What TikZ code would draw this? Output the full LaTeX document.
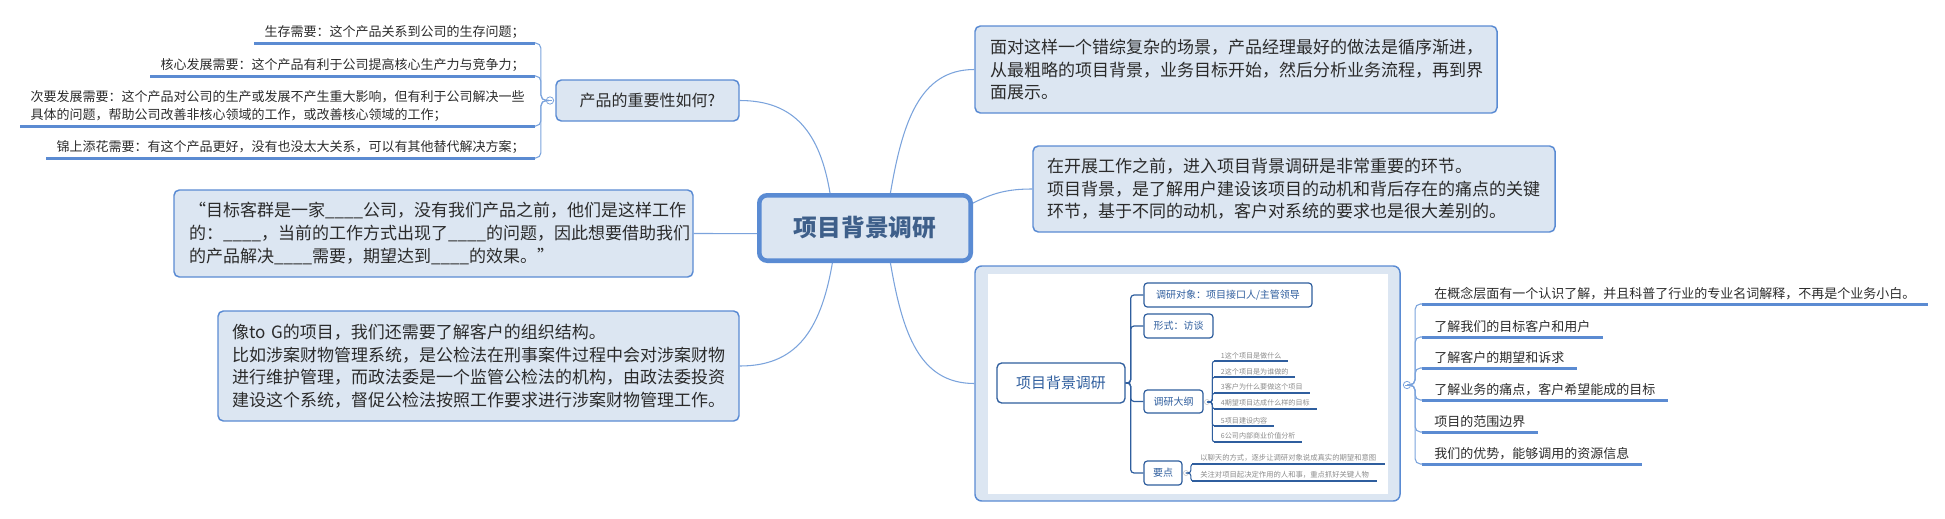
\documentclass[tikz,border=0pt]{standalone}
\usepackage{fontspec}
\setmainfont{Noto Sans CJK SC}
\definecolor{fillc}{HTML}{DCE6F2}
\definecolor{bordc}{HTML}{5A8BD3}
\definecolor{connc}{HTML}{7BA3DC}
\definecolor{ulc}{HTML}{5B8BD2}
\definecolor{txtc}{HTML}{2B2B2B}
\definecolor{ctxt}{HTML}{3E5F8A}
\definecolor{inb}{HTML}{2F5E9E}
\definecolor{ingray}{HTML}{8C8C8C}
\begin{document}
\begin{tikzpicture}[x=0.75pt,y=-0.75pt,
  mainbox/.style={draw=bordc,fill=fillc,line width=1.1pt,rounded corners=4pt,text=txtc,align=left,
    font=\fontsize{12.75}{16.9}\selectfont,inner ysep=0pt},
  centralbox/.style={draw=bordc,fill=fillc,line width=3.4pt,rounded corners=6pt,text=ctxt,
    font=\fontsize{17.8}{20}\selectfont\bfseries,minimum width=158.6pt,minimum height=49.1pt},
  conn/.style={draw=connc,line width=0.8pt},
  brl/.style={draw=connc,line width=0.8pt,rounded corners=4pt},
  uline/.style={draw=ulc,line width=2.25pt},
  litem/.style={text=txtc,align=left,font=\fontsize{9.75}{13.5}\selectfont,inner xsep=7.5pt,inner ysep=3pt},
  circ/.style={circle,draw=connc,fill=white,line width=0.6pt,minimum size=5.5pt,inner sep=0pt,
    path picture={\draw[connc,line width=0.5pt] ([xshift=-1.6pt]path picture bounding box.center) -- ([xshift=1.6pt]path picture bounding box.center);}},
  icirc/.style={circle,draw=ingray!50,fill=white,line width=0.4pt,minimum size=3.8pt,inner sep=0pt},
  ibox/.style={draw=inb,fill=white,line width=0.9pt,rounded corners=2.5pt,text=inb,
    font=\fontsize{7.5}{9}\selectfont,inner sep=0pt,minimum height=18pt},
  ibr/.style={draw=inb,line width=0.9pt,rounded corners=2.5pt},
  iul/.style={draw=inb,line width=0.8pt},
  iitem/.style={text=ingray,font=\fontsize{5.3}{6}\selectfont,inner xsep=5pt,inner ysep=1.6pt,anchor=south west},
]
\useasboundingbox (0,0) rectangle (1945,518);

% central node
\node[centralbox] (central) at (865,228) {项目背景调研};

% left: importance
\node[mainbox,align=center,minimum width=137.25pt,minimum height=30.75pt,font=\fontsize{12}{14}\selectfont] (imp) at (647.5,100.5) {产品的重要性如何?};
\node[circ] (impc) at (550,100.5) {};

\node[litem,anchor=south east] (L1) at (535,43) {生存需要：这个产品关系到公司的生存问题；};
\node[litem,anchor=south east] (L2) at (535,76) {核心发展需要：这个产品有利于公司提高核心生产力与竞争力；};
\node[litem,anchor=south east] (L3) at (535,126) {次要发展需要：这个产品对公司的生产或发展不产生重大影响，但有利于公司解决一些\\具体的问题，帮助公司改善非核心领域的工作，或改善核心领域的工作；};
\node[litem,anchor=south east] (L4) at (535,158) {锦上添花需要：有这个产品更好，没有也没太大关系，可以有其他替代解决方案；};
\foreach \n in {L1,L2,L3,L4}{
  \draw[uline] (\n.south west) -- (\n.south east);
  \draw[brl] (impc.west) -- ++(-5,0) |- (\n.south east);
}

% quote box
\node[mainbox,text width=366.75pt,inner xsep=11.25pt,minimum height=65.25pt] (quote) at (433.5,233.5)
  {“目标客群是一家\_\_\_\_公司，没有我们产品之前，他们是这样工作\\的：\_\_\_\_，当前的工作方式出现了\_\_\_\_的问题，因此想要借助我们\\的产品解决\_\_\_\_需要，期望达到\_\_\_\_的效果。”};

% to G box
\node[mainbox,text width=369.75pt,inner xsep=10.5pt,minimum height=82.5pt] (toG) at (478.5,366)
  {像to G的项目，我们还需要了解客户的组织结构。\\比如涉案财物管理系统，是公检法在刑事案件过程中会对涉案财物\\进行维护管理，而政法委是一个监管公检法的机构，由政法委投资\\建设这个系统，督促公检法按照工作要求进行涉案财物管理工作。};

% right boxes
\node[mainbox,text width=369pt,inner xsep=11.25pt,minimum height=65.25pt] (box1) at (1236,69.5)
  {面对这样一个错综复杂的场景，产品经理最好的做法是循序渐进，\\从最粗略的项目背景，业务目标开始，然后分析业务流程，再到界\\面展示。};
\node[mainbox,text width=370.5pt,inner xsep=10.5pt,minimum height=64.5pt] (box2) at (1294,189)
  {在开展工作之前，进入项目背景调研是非常重要的环节。\\项目背景，是了解用户建设该项目的动机和背后存在的痛点的关键\\环节，基于不同的动机，客户对系统的要求也是很大差别的。};

% big picture box
\node[draw=bordc,fill=fillc,line width=1.1pt,rounded corners=5pt,minimum width=318.75pt,minimum height=176.25pt,inner sep=0pt] (big) at (1187.5,383.5) {};
\fill[white] (988,274) rectangle (1388,494);

% inner mind map
\node[ibox,minimum width=96pt,minimum height=30pt,font=\fontsize{11.2}{13}\selectfont,line width=1pt,rounded corners=3.5pt] (ic0) at (1061,383) {项目背景调研};
\node[ibox,minimum width=126pt] (ia) at (1228,295) {调研对象：项目接口人/主管领导};
\node[ibox,minimum width=51.75pt] (ib) at (1178.5,326) {形式：访谈};
\node[ibox,minimum width=44.25pt,minimum height=17.25pt] (ic) at (1173.5,401.5) {调研大纲};
\node[ibox,minimum width=28.5pt] (id) at (1163,473) {要点};
\foreach \n in {ia,ib,ic,id}{
  \draw[ibr] (ic0.east) -- ++(5,0) |- (\n.west);
}
\node[icirc] (icc) at (1207,402) {};
\node[icirc] (idc) at (1186,473) {};

\node[iitem] (i1) at (1214,361) {1这个项目是做什么};
\node[iitem] (i2) at (1214,377) {2这个项目是为谁做的};
\node[iitem] (i3) at (1214,393) {3客户为什么要做这个项目};
\node[iitem] (i4) at (1214,409) {4期望项目达成什么样的目标};
\node[iitem] (i5) at (1214,426) {5项目建设内容};
\node[iitem] (i6) at (1214,442) {6公司内部商业价值分析};
\foreach \n in {i1,i2,i3,i4,i5,i6}{
  \draw[iul] (\n.south west) -- (\n.south east);
  \draw[ibr,line width=0.8pt,rounded corners=2pt] (icc.east) -- ++(2.5,0) |- (\n.south west);
}
\node[iitem,inner xsep=6pt,font=\fontsize{5.5}{6}\selectfont] (j1) at (1192,464) {以聊天的方式，逐步让调研对象说成真实的期望和意图};
\node[iitem,inner xsep=6pt,font=\fontsize{5.5}{6}\selectfont] (j2) at (1192,481) {关注对项目起决定作用的人和事，重点抓好关键人物};
\foreach \n in {j1,j2}{
  \draw[iul] (\n.south west) -- (\n.south east);
  \draw[ibr,line width=0.8pt,rounded corners=2pt] (idc.east) -- ++(2,0) |- (\n.south west);
}

% right list
\node[circ] (bigc) at (1407,385) {};
\node[litem,anchor=south west,inner xsep=9pt] (R1) at (1422,304) {在概念层面有一个认识了解，并且科普了行业的专业名词解释，不再是个业务小白。};
\node[litem,anchor=south west,inner xsep=9pt] (R2) at (1422,337) {了解我们的目标客户和用户};
\node[litem,anchor=south west,inner xsep=9pt] (R3) at (1422,368) {了解客户的期望和诉求};
\node[litem,anchor=south west,inner xsep=9pt] (R4) at (1422,400) {了解业务的痛点，客户希望能成的目标};
\node[litem,anchor=south west,inner xsep=9pt] (R5) at (1422,432) {项目的范围边界};
\node[litem,anchor=south west,inner xsep=9pt] (R6) at (1422,464) {我们的优势，能够调用的资源信息};
\foreach \n in {R1,R2,R3,R4,R5,R6}{
  \draw[uline] (\n.south west) -- (\n.south east);
  \draw[brl] (bigc.east) -- ++(4,0) |- (\n.south west);
}

% central connectors
\draw[conn] (central.135) .. controls +(-10,-60) and +(55,0) .. (imp.east);
\draw[conn] (central.183) .. controls +(-30,0) and +(30,0) .. (quote.east);
\draw[conn] (central.227.6) .. controls +(-12,70) and +(55,0) .. (toG.east);
\draw[conn] (central.54.5) .. controls +(12,-70) and +(-55,0) .. (box1.west);
\draw[conn] (central.13) .. controls +(20,-10) and +(-25,0) .. (box2.west);
\draw[conn] (central.-54.5) .. controls +(12,70) and +(-55,0) .. (big.west);
\end{tikzpicture}
\end{document}
